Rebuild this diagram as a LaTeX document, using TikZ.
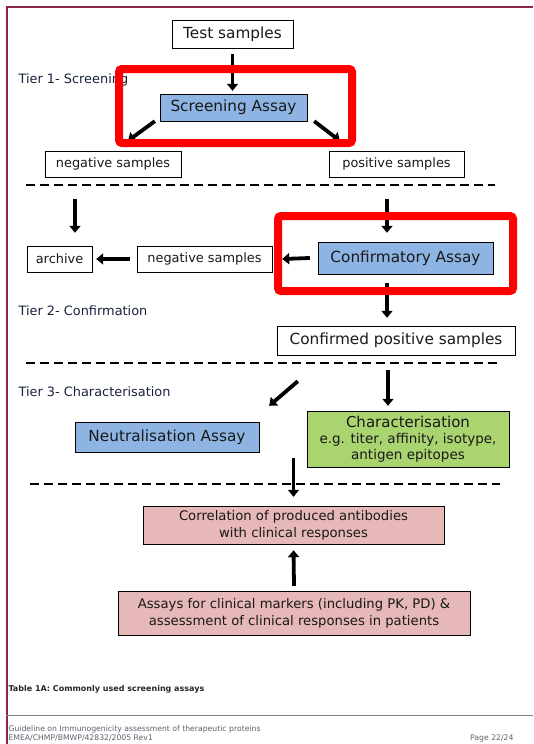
\documentclass[tikz,border=0pt]{standalone}
\usepackage{fontspec}
\setmainfont{DejaVu Sans}
\usepackage{tikz}
\usetikzlibrary{arrows.meta, positioning}
\definecolor{assaycolor}{RGB}{141, 180, 226}
\definecolor{charcolor}{RGB}{170, 212, 112}
\definecolor{clincolor}{RGB}{230, 184, 183}
\definecolor{framecolor}{RGB}{140, 40, 70}
\definecolor{tiercolor}{RGB}{25, 35, 60}
\definecolor{footcolor}{RGB}{95, 95, 110}

\begin{document}
\begin{tikzpicture}[
    x=1pt, y=-1pt,
    box/.style={draw, thin, inner sep=0pt, align=center, text=black!90, font=\fontsize{12.9}{15}\selectfont},
    bigbox/.style={box, font=\fontsize{15.3}{17}\selectfont},
    assay/.style={bigbox, fill=assaycolor},
    clinbox/.style={box, fill=clincolor, font=\fontsize{13.2}{17}\selectfont},
    tier/.style={anchor=west, text=tiercolor, font=\fontsize{12.9}{14}\selectfont},
    arrow/.style={-{Triangle[length=7pt, width=11pt]}, line width=3.8pt, black},
    highlight/.style={draw=red, line width=8pt, rounded corners=3pt},
    separator/.style={dashed, dash pattern=on 9pt off 5pt, line width=2.6pt},
    foot/.style={anchor=west, text=footcolor, font=\fontsize{7.7}{8}\selectfont}
]
    \useasboundingbox (0,0) rectangle (533,744);

    % Page frame
    \draw[framecolor, line width=2pt] (6.5,744) -- (6.5,7) -- (533,7);
    \draw[black!50, line width=1pt] (6,715) -- (533,715);

    % Tier 1
    \node[bigbox, minimum width=121, minimum height=28] (test) at (232.5,34) {Test samples};
    \node[tier] (tier1) at (15,80) {Tier 1- Screening};
    \node[assay, minimum width=147, minimum height=27] (screen) at (233.5,107.5) {Screening Assay};
    \node[box, minimum width=136, minimum height=26] (neg1) at (113,164) {negative samples};
    \node[box, minimum width=135, minimum height=26] (pos1) at (396.5,164) {positive samples};

    \draw[arrow, shorten <=6pt, shorten >=3pt] (test.south) -- (test.south |- screen.north);
    \draw[arrow] ([xshift=-5pt]screen.south west) -- ([xshift=15pt, yshift=10pt]neg1.north);
    \draw[arrow] ([xshift=7pt]screen.south east) -- ([xshift=11pt, yshift=10pt]pos1.north west);

    \draw[separator] (26,185) -- (495,185);

    % Tier 2
    \node[box, minimum width=65, minimum height=26] (archive) at (59.5,259) {archive};
    \node[box, minimum width=135, minimum height=26] (neg2) at (204.5,259) {negative samples};
    \node[assay, minimum width=175, minimum height=32] (confirm) at (405.5,258) {Confirmatory Assay};
    \node[tier] (tier2) at (15,311) {Tier 2- Confirmation};
    \node[bigbox, minimum width=238, minimum height=29] (confpos) at (396,340.5) {Confirmed positive samples};

    \draw[arrow] ([xshift=-38pt, yshift=-22pt]neg1.south) -- ([xshift=15.5pt, yshift=13pt]archive.north);
    \draw[arrow] ([xshift=-9.5pt, yshift=-22pt]pos1.south) -- ([xshift=-18.5pt, yshift=9pt]confirm.north);
    \draw[arrow] ([xshift=-8pt]confirm.west) -- ([xshift=10pt]neg2.east);
    \draw[arrow] ([xshift=-7pt]neg2.west) -- ([xshift=4pt]archive.east);
    \draw[arrow] ([xshift=-18.5pt, yshift=-9pt]confirm.south) -- ([xshift=-9pt, yshift=8pt]confpos.north);

    \draw[separator] (26,363) -- (497,363);

    % Tier 3
    \node[tier] (tier3) at (15,392) {Tier 3- Characterisation};
    \node[assay, minimum width=184, minimum height=30] (neutral) at (167,437) {Neutralisation Assay};
    \node[box, fill=charcolor, minimum width=202, minimum height=56, font=\fontsize{13.5}{15.5}\selectfont] (charac) at (408,439)
        {{\fontsize{15}{16}\selectfont Characterisation}\\[1pt]e.g. titer, affinity, isotype,\\antigen epitopes};

    \draw[arrow] ([xshift=-8pt, yshift=-15pt]confpos.south) -- ([xshift=-20pt, yshift=5pt]charac.north);
    \draw[arrow] ([xshift=21pt, yshift=-26pt]confpos.south west) -- ([xshift=10pt, yshift=16pt]neutral.north east);

    \draw[separator] (30,484) -- (500,484);

    % Clinical correlation
    \node[clinbox, minimum width=301, minimum height=38] (correl) at (293.5,525)
        {Correlation of produced antibodies\\with clinical responses};
    \node[clinbox, minimum width=352, minimum height=44] (clinic) at (294,613)
        {Assays for clinical markers (including PK, PD) \&\\assessment of clinical responses in patients};

    \draw[arrow] ([yshift=48pt]correl.north) -- ([yshift=9pt]correl.north);
    \draw[arrow] ([yshift=5pt]clinic.north) -- ([yshift=-6pt]correl.south);

    % Highlights
    \draw[highlight] (119,69) rectangle (352,143);
    \draw[highlight] (278,216) rectangle (513,291);

    % Caption and footer
    \node[anchor=west, font=\fontsize{8}{9}\selectfont\bfseries, text=black!85] (caption) at (5,689) {Table 1A: Commonly used screening assays};
    \node[foot] (guide) at (5,729) {Guideline on Immunogenicity assessment of therapeutic proteins};
    \node[foot] (ref) at (5,738) {EMEA/CHMP/BMWP/42832/2005 Rev1};
    \node[foot, anchor=east] (page) at (517,738) {Page 22/24};
\end{tikzpicture}
\end{document}
